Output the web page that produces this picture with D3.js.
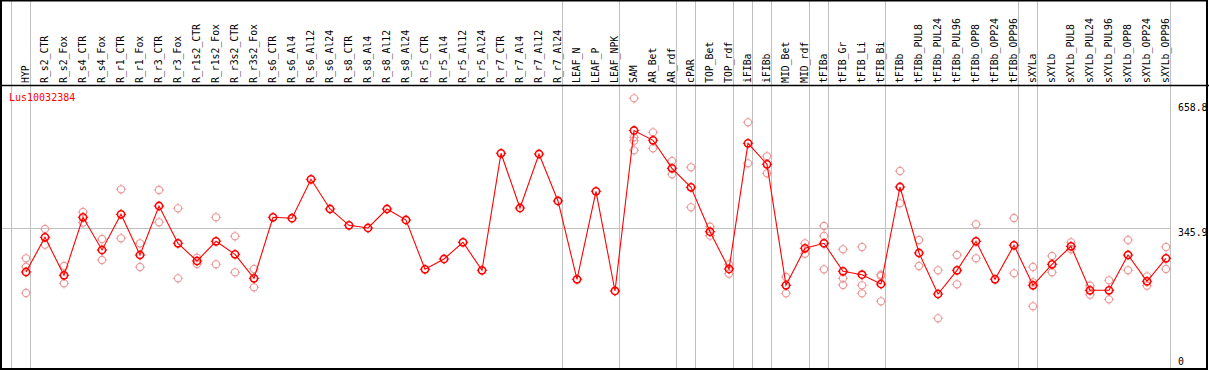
<!DOCTYPE html>
<html>
<head>
<meta charset="utf-8">
<script src="https://cdn.jsdelivr.net/npm/d3@7"></script>
<style>
  body { margin: 0; background: #fff; }
  text { font-family: "DejaVu Sans Mono", monospace; }
</style>
</head>
<body>
<div id="chart"></div>
<script>
var title = "Lus10032384";

var samples = ["HYP", "R_s2_CTR", "R_s2_Fox", "R_s4_CTR", "R_s4_Fox", "R_r1_CTR", "R_r1_Fox",
  "R_r3_CTR", "R_r3_Fox", "R_r1s2_CTR", "R_r1s2_Fox", "R_r3s2_CTR", "R_r3s2_Fox",
  "R_s6_CTR", "R_s6_Al4", "R_s6_Al12", "R_s6_Al24", "R_s8_CTR", "R_s8_Al4", "R_s8_Al12", "R_s8_Al24",
  "R_r5_CTR", "R_r5_Al4", "R_r5_Al12", "R_r5_Al24", "R_r7_CTR", "R_r7_Al4", "R_r7_Al12", "R_r7_Al24",
  "LEAF_N", "LEAF_P", "LEAF_NPK", "SAM", "AR_Bet", "AR_rdf", "cPAR", "TOP_Bet", "TOP_rdf",
  "iFIBa", "iFIBb", "MID_Bet", "MID_rdf", "tFIBa", "tFIB_Gr", "tFIB_Li", "tFIB_Bi",
  "tFIBb", "tFIBb_PUL8", "tFIBb_PUL24", "tFIBb_PUL96", "tFIBb_OPP8", "tFIBb_OPP24", "tFIBb_OPP96",
  "sXYLa", "sXYLb", "sXYLb_PUL8", "sXYLb_PUL24", "sXYLb_PUL96", "sXYLb_OPP8", "sXYLb_OPP24", "sXYLb_OPP96"];

// mean expression per sample
var means = [237.1, 323.7, 228.8, 373.6, 292.0, 381.1, 279.5, 401.8, 308.7, 264.5, 313.7, 281.2, 221.3,
  373.6, 371.3, 468.4, 394.3, 353.6, 346.9, 394.3, 366.8,
  243.8, 269.5, 311.2, 241.3, 533.3, 396.8, 531.5, 414.3,
  218.9, 438.5, 189.7, 590.2, 565.7, 495.9, 448.4, 337.6, 244.6,
  558.2, 505.8, 203.9, 296.2, 308.7, 238.8, 230.3, 207.1,
  449.2, 284.5, 182.2, 241.3, 313.7, 218.9, 303.7,
  203.9, 256.3, 301.2, 191.4, 191.4, 279.5, 213.9, 271.3];

// individual replicates per sample
var replicates = [
  [271.3, 249.6, 184.7], [344.4, 305.2], [252.0, 208.9], [386.8, 360.1], [319.4, 267.0],
  [443.5, 321.2], [308.7, 249.6], [441.7, 361.1], [396.0, 221.3], [272.8, 257.0],
  [373.6, 256.3], [326.2, 236.3], [244.6, 198.9],
  [], [], [], [], [], [], [], [], [], [], [], [], [], [], [], [],
  [], [], [],
  [670.5, 573.2, 564.7, 540.8], [585.7, 545.8], [514.1, 480.9], [498.4, 398.5],
  [350.1, 327.7], [256.3, 232.8], [610.6, 508.3], [525.8, 483.4], [224.6, 183.9],
  [308.7, 282.7], [351.9, 326.9, 243.8], [293.7, 221.3, 204.6], [299.5, 203.9, 183.9],
  [230.3, 227.1, 164.0],
  [489.1, 408.5], [316.9, 252.0], [241.3, 121.5], [279.5, 206.4], [356.1, 271.3], [],
  [371.8, 233.8], [249.6, 211.4, 151.5], [277.0, 236.3], [311.2, 293.7], [202.9, 180.4],
  [216.4, 168.9], [316.9, 241.3], [226.3, 202.9], [299.5, 244.6]];

// index of the sample after which a separator is drawn (-1 = before the first one)
var groupEnds = [-1, 0, 28, 31, 34, 35, 37, 38, 39, 41, 42, 45, 52, 53, 60];

var yTicks = [0, 345.9, 658.8];
var refValue = 345.9;

var width = 1209,
    height = 370,
    headerBottom = 85.5;

var svg = d3.select("#chart")
  .append("svg")
  .attr("width", width)
  .attr("height", height);

var x = d3.scalePoint()
  .domain(samples)
  .range([26, 1166]);

var y = d3.scaleLinear()
  .domain([0, 658.8])
  .range([367, 103]);

var step = x.step();

// group separators
svg.selectAll(".sep")
  .data(groupEnds)
  .enter().append("line")
    .attr("class", "sep")
    .attr("x1", function(d) { return Math.round(x(samples[0]) + step * d + 4) + 0.5; })
    .attr("x2", function(d) { return Math.round(x(samples[0]) + step * d + 4) + 0.5; })
    .attr("y1", 0)
    .attr("y2", height)
    .attr("stroke", "#c0c0c0");

// reference line
svg.append("line")
  .attr("x1", 1)
  .attr("x2", Math.round(x(samples[samples.length - 1]) + 4) + 0.5)
  .attr("y1", Math.round(y(refValue)) + 0.5)
  .attr("y2", Math.round(y(refValue)) + 0.5)
  .attr("stroke", "#c0c0c0");

// frame and header rule
svg.append("rect")
  .attr("x", 1)
  .attr("y", 0.5)
  .attr("width", width - 3)
  .attr("height", height - 1.5)
  .attr("fill", "none")
  .attr("stroke", "#000")
  .attr("stroke-width", 2);

svg.append("line")
  .attr("x1", 0)
  .attr("x2", width)
  .attr("y1", headerBottom)
  .attr("y2", headerBottom)
  .attr("stroke", "#000")
  .attr("stroke-width", 1.5);

// sample labels
svg.selectAll(".label")
  .data(samples)
  .enter().append("text")
    .attr("class", "label")
    .attr("transform", function(d) { return "translate(" + (x(d) + 2.6) + "," + 83 + ")rotate(-90)"; })
    .attr("font-size", "9.8px")
    .attr("fill", "#000")
    .text(function(d) { return d; });

// y labels on the right
svg.selectAll(".ylab")
  .data(yTicks)
  .enter().append("text")
    .attr("class", "ylab")
    .attr("x", 1178)
    .attr("y", function(d) { return Math.min(y(d) + 7.5, 365); })
    .attr("font-size", "9.8px")
    .attr("fill", "#000")
    .text(function(d) { return d; });

svg.append("text")
  .attr("x", 9)
  .attr("y", 101)
  .attr("font-size", "10px")
  .attr("fill", "#f00")
  .text(title);

function marker(g, color, sw) {
  g.append("circle")
    .attr("r", 3.6)
    .attr("fill", "none")
    .attr("stroke", color)
    .attr("stroke-width", sw);
  g.append("path")
    .attr("d", "M0,-3.6V-5.2M0,3.6V5.2M-3.6,0H-5.2M3.6,0H5.2")
    .attr("stroke", color)
    .attr("stroke-width", 1);
}

// replicate points
var reps = [];
samples.forEach(function(s, i) {
  replicates[i].forEach(function(v) { reps.push({sample: s, value: v}); });
});

svg.selectAll(".rep")
  .data(reps)
  .enter().append("g")
    .attr("class", "rep")
    .attr("transform", function(d) { return "translate(" + x(d.sample) + "," + y(d.value) + ")"; })
    .each(function() { marker(d3.select(this), "#eb9a9a", 1.1); });

// mean line
var line = d3.line()
  .x(function(d, i) { return x(samples[i]); })
  .y(function(d) { return y(d); });

svg.append("path")
  .datum(means)
  .attr("fill", "none")
  .attr("stroke", "#f00")
  .attr("stroke-width", 1.1)
  .attr("d", line);

svg.selectAll(".mean")
  .data(means)
  .enter().append("g")
    .attr("class", "mean")
    .attr("transform", function(d, i) { return "translate(" + x(samples[i]) + "," + y(d) + ")"; })
    .each(function() { marker(d3.select(this), "#f00", 1.6); });
</script>
</body>
</html>
